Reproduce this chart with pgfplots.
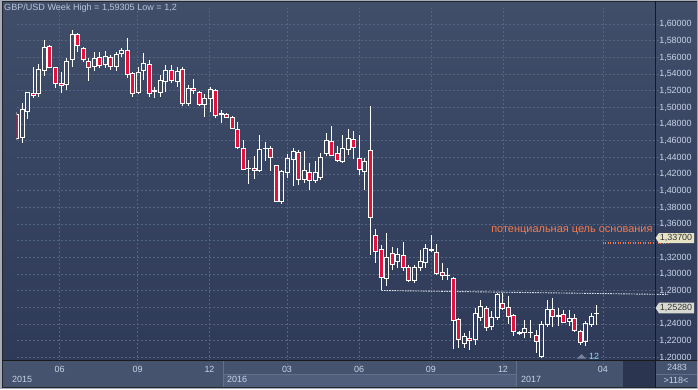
\documentclass[border=0pt]{standalone}
\usepackage{pgfplots}
\usepackage{pgfplotstable}
\pgfplotsset{compat=1.18}
\usepackage{fontspec}
\setmainfont{Liberation Sans}
\definecolor{bgtop}{HTML}{404E6A}
\definecolor{bgbot}{HTML}{2E3A58}
\definecolor{gridc}{HTML}{56657F}
\definecolor{bear}{HTML}{E3123C}
\definecolor{lbl}{HTML}{C9D3E6}
\definecolor{titlec}{HTML}{B9C4D8}
\definecolor{barbg}{HTML}{45536E}
\definecolor{barbg2}{HTML}{505E7B}
\definecolor{sepc}{HTML}{63708C}
\definecolor{darkbox}{HTML}{2B3550}
\definecolor{framec}{HTML}{A3ADBE}
\definecolor{orangec}{HTML}{F47A4C}
\definecolor{tagA}{HTML}{E6E3C6}
\definecolor{tagB}{HTML}{D9DAD2}
\definecolor{supc}{HTML}{D8DCE4}
\pgfplotstableread{
x o h l c
0 1.4920 1.4940 1.4610 1.4632
1 1.4639 1.5052 1.4572 1.4972
2 1.4951 1.5191 1.4860 1.5179
3 1.5172 1.5491 1.5112 1.5148
4 1.5164 1.5520 1.5120 1.5460
5 1.5440 1.5812 1.5383 1.5724
6 1.5731 1.5750 1.5470 1.5484
7 1.5480 1.5491 1.5232 1.5292
8 1.5287 1.5431 1.5172 1.5268
9 1.5272 1.5592 1.5212 1.5556
10 1.5572 1.5932 1.5480 1.5880
11 1.5880 1.5892 1.5671 1.5743
12 1.5712 1.5731 1.5551 1.5572
13 1.5551 1.5592 1.5323 1.5484
14 1.5491 1.5671 1.5443 1.5592
15 1.5599 1.5664 1.5472 1.5503
16 1.5520 1.5680 1.5472 1.5611
17 1.5599 1.5632 1.5452 1.5496
18 1.5496 1.5671 1.5440 1.5640
19 1.5652 1.5719 1.5604 1.5683
20 1.5683 1.5832 1.5352 1.5392
21 1.5404 1.5431 1.5131 1.5172
22 1.5180 1.5480 1.5164 1.5424
23 1.5440 1.5652 1.5332 1.5532
24 1.5520 1.5572 1.5131 1.5172
25 1.5192 1.5251 1.5112 1.5200
26 1.5184 1.5392 1.5131 1.5320
27 1.5312 1.5512 1.5191 1.5440
28 1.5440 1.5512 1.5292 1.5320
29 1.5311 1.5491 1.5240 1.5431
30 1.5452 1.5491 1.5020 1.5044
31 1.5044 1.5272 1.5012 1.5232
32 1.5224 1.5344 1.5160 1.5200
33 1.5184 1.5200 1.5020 1.5040
34 1.5040 1.5160 1.4891 1.5112
35 1.5112 1.5248 1.4951 1.5220
36 1.5200 1.5220 1.4872 1.4900
37 1.4920 1.4972 1.4808 1.4925
38 1.4920 1.4932 1.4872 1.4884
39 1.4884 1.4892 1.4744 1.4752
40 1.4740 1.4824 1.4504 1.4520
41 1.4512 1.4612 1.4252 1.4260
42 1.4264 1.4372 1.4080 1.4268
43 1.4272 1.4420 1.4144 1.4248
44 1.4240 1.4672 1.4232 1.4500
45 1.4504 1.4584 1.4352 1.4508
46 1.4508 1.4540 1.4232 1.4404
47 1.4304 1.4312 1.3860 1.3872
48 1.3872 1.4252 1.3840 1.4232
49 1.4220 1.4440 1.4152 1.4392
50 1.4380 1.4512 1.4052 1.4472
51 1.4464 1.4492 1.4072 1.4140
52 1.4140 1.4472 1.4092 1.4240
53 1.4224 1.4332 1.4004 1.4124
54 1.4124 1.4360 1.4092 1.4220
55 1.4164 1.4452 1.4124 1.4404
56 1.4452 1.4692 1.4412 1.4604
57 1.4592 1.4780 1.4412 1.4424
58 1.4444 1.4532 1.4340 1.4364
59 1.4352 1.4672 1.4332 1.4512
60 1.4500 1.4740 1.4432 1.4632
61 1.4620 1.4712 1.4384 1.4520
62 1.4392 1.4672 1.4192 1.4260
63 1.4232 1.4392 1.4012 1.4352
64 1.4484 1.5020 1.3232 1.3684
65 1.3464 1.3544 1.3132 1.3272
66 1.3292 1.3352 1.2804 1.2960
67 1.2952 1.3492 1.2852 1.3204
68 1.3252 1.3320 1.3052 1.3120
69 1.3152 1.3312 1.3072 1.3240
70 1.3224 1.3384 1.3032 1.3084
71 1.3084 1.3112 1.2904 1.2920
72 1.2920 1.3112 1.2892 1.3084
73 1.3084 1.3292 1.3032 1.3148
74 1.3144 1.3364 1.3072 1.3304
75 1.3300 1.3464 1.3264 1.3280
76 1.3264 1.3364 1.2992 1.3012
77 1.3024 1.3132 1.2924 1.2980
78 1.2984 1.3072 1.2924 1.2988
79 1.2952 1.2964 1.2104 1.2448
80 1.2452 1.2472 1.2112 1.2212
81 1.2172 1.2292 1.2112 1.2252
82 1.2232 1.2312 1.2090 1.2208
83 1.2212 1.2592 1.2152 1.2532
84 1.2484 1.2692 1.2432 1.2612
85 1.2592 1.2612 1.2312 1.2356
86 1.2372 1.2552 1.2332 1.2484
87 1.2484 1.2772 1.2452 1.2752
88 1.2652 1.2772 1.2572 1.2592
89 1.2604 1.2732 1.2396 1.2492
90 1.2500 1.2520 1.2252 1.2312
91 1.2292 1.2312 1.2264 1.2296
92 1.2304 1.2452 1.2232 1.2352
93 1.2295 1.2452 1.2232 1.2300
94 1.2260 1.2332 1.2056 1.2192
95 1.2008 1.2432 1.2000 1.2392
96 1.2392 1.2692 1.2364 1.2572
97 1.2580 1.2716 1.2364 1.2496
98 1.2496 1.2592 1.2372 1.2500
99 1.2512 1.2572 1.2412 1.2424
100 1.2432 1.2572 1.2372 1.2472
101 1.2472 1.2520 1.2312 1.2320
102 1.2312 1.2332 1.2144 1.2184
103 1.2192 1.2432 1.2132 1.2412
104 1.2400 1.2532 1.2364 1.2492
105 1.2524 1.2632 1.2384 1.2528
}\candles
\begin{document}
\begin{tikzpicture}[x=1bp,y=1bp]
\useasboundingbox (0,0) rectangle (698,389);
% frame and backgrounds
\fill[framec] (0,0) rectangle (698,389);
\fill[black!85] (2,1.5) rectangle (697,387.5);
\shade[top color=bgtop, bottom color=bgbot] (3,29) rectangle (654.5,386);
\shade[top color=bgtop, bottom color=bgbot] (655.8,29) rectangle (697,386);
% bottom bar
\fill[barbg] (3,2) rectangle (654.5,28);
\fill[barbg2] (223.3,2) rectangle (516.7,14.7);
\draw[sepc, line width=0.8bp] (223.3,14.7) -- (516.7,14.7);
\draw[sepc, line width=0.8bp] (223.3,2) -- (223.3,28);
\draw[sepc, line width=0.8bp] (516.7,2) -- (516.7,28);
\fill[darkbox] (623,2) rectangle (654.5,28);
\fill[barbg] (655.8,2) rectangle (697,28);
\draw[sepc, line width=0.8bp] (655.8,14.7) -- (697,14.7);
% wicks, grid, lines
\begin{axis}[at={(3,29)}, anchor=south west, scale only axis,
  width=652bp, height=357bp,
  xmin=-0.05, xmax=118, ymin=1.19117, ymax=1.6196,
  axis line style={draw=none}, major tick length=0pt,
  xtick={7.73,21.85,34.88,48.91,61.95,74.98,88.02,106.12},
  xticklabels={06,09,12,03,06,09,12,04},
  ytick={1.20,1.22,1.24,1.26,1.28,1.30,1.32,1.34,1.36,1.38,1.40,1.42,1.44,1.46,1.48,1.50,1.52,1.54,1.56,1.58,1.60},
  yticklabels={1{,}20000,1{,}22000,1{,}24000,1{,}26000,1{,}28000,1{,}30000,1{,}32000,,1{,}36000,1{,}38000,1{,}40000,1{,}42000,1{,}44000,1{,}46000,1{,}48000,1{,}50000,1{,}52000,1{,}54000,1{,}56000,1{,}58000,1{,}60000},
  yticklabel pos=right,
  grid=major,
  major grid style={draw=gridc, dash pattern=on 2bp off 2bp, line width=0.8bp},
  xticklabel style={anchor=center, yshift=-5bp, text=lbl, font=\fontsize{9}{10}\selectfont, inner sep=0pt},
  yticklabel style={anchor=west, xshift=-9.5bp, text=lbl, font=\fontsize{9}{10}\selectfont, inner sep=0pt},
]
\addplot[draw=supc, line width=0.9bp, dash pattern=on 1.6bp off 1bp] coordinates {(66,1.2804) (117.9,1.2756)};
\addplot[draw=orangec, line width=1.2bp, dash pattern=on 1.2bp off 1.3bp] coordinates {(106.08,1.3373) (118,1.3373)};
\addplot[draw=none, mark=none, forget plot,
  error bars/.cd, y dir=minus, y explicit, error mark=none,
  error bar style={draw=white, solid, line width=1bp}]
  table[x=x, y expr={min(\thisrow{o},\thisrow{c})}, y error minus expr={min(\thisrow{o},\thisrow{c})-\thisrow{l}}] {\candles};
\addplot[draw=none, mark=none, forget plot,
  error bars/.cd, y dir=plus, y explicit, error mark=none,
  error bar style={draw=white, solid, line width=1bp}]
  table[x=x, y expr={max(\thisrow{o},\thisrow{c})}, y error plus expr={\thisrow{h}-max(\thisrow{o},\thisrow{c})}] {\candles};
\end{axis}
% bodies
\begin{axis}[at={(3,29)}, anchor=south west, scale only axis,
  width=652bp, height=357bp,
  xmin=-0.05, xmax=118, ymin=1.19117, ymax=1.6196,
  hide axis, ybar stacked, bar width=4bp]
\addplot[draw=none, fill=none] table[x=x, y expr={min(\thisrow{o},\thisrow{c})}] {\candles};
\addplot[draw=white, fill=bear, line width=1bp] table[x=x, y expr={max(\thisrow{o}-\thisrow{c},0)}] {\candles};
\addplot[draw=white, fill=none, line width=1bp] table[x=x, y expr={max(\thisrow{c}-\thisrow{o},0)}] {\candles};
\end{axis}
% axis border lines
\draw[black!90, line width=1.2bp] (655.2,1.5) -- (655.2,387.5);
\draw[black!90, line width=1.2bp] (2,28.6) -- (697,28.6);
% texts
\node[anchor=west, inner sep=0pt, text=titlec, font=\fontsize{9.1}{10}\selectfont] at (4,380.5) {GBP/USD Week High = 1,59305 Low = 1,2};
\node[anchor=east, inner sep=0pt, text=orangec, font=\fontsize{11}{12}\selectfont] at (652.7,158.3) {потенциальная цель основания};
\fill[tagA] (655.6,151) -- (659,156) -- (694,156) -- (694,146) -- (659,146) -- cycle;
\node[anchor=west, inner sep=0pt, text=black!80, font=\fontsize{9}{10}\selectfont] at (659.6,151) {1,33700};
\fill[tagB] (655.6,81) -- (659,86.3) -- (694,86.3) -- (694,75.7) -- (659,75.7) -- cycle;
\node[anchor=west, inner sep=0pt, text=black!80, font=\fontsize{9}{10}\selectfont] at (659.6,81) {1,25280};
% bottom marker
\fill[gridc!80!white] (577,30.3) -- (586,30.3) -- (581.5,35) -- cycle;
\node[anchor=west, inner sep=0pt, text=lbl!70!cyan, font=\fontsize{9}{10}\selectfont] at (589,33) {12};
% year labels
\node[anchor=west, inner sep=0pt, text=lbl, font=\fontsize{9}{10}\selectfont] at (12,9.5) {2015};
\node[anchor=west, inner sep=0pt, text=lbl, font=\fontsize{9}{10}\selectfont] at (227,9.5) {2016};
\node[anchor=west, inner sep=0pt, text=lbl, font=\fontsize{9}{10}\selectfont] at (521,9.5) {2017};
% right bottom box
\node[inner sep=0pt, text=lbl, font=\fontsize{9}{10}\selectfont] at (677,22) {2483};
\node[inner sep=0pt, text=lbl, font=\fontsize{9}{10}\selectfont] at (676,8.5) {>118<};
\end{tikzpicture}
\end{document}
